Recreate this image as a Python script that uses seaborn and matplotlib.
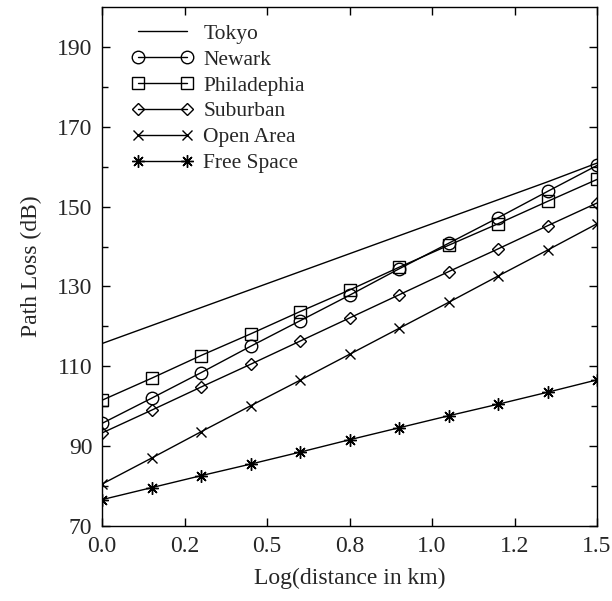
import matplotlib
matplotlib.use("Agg")
import matplotlib.pyplot as plt
import seaborn as sns
import pandas as pd
from matplotlib.ticker import FixedLocator, MultipleLocator, FormatStrFormatter

# ==================================================
# DATA
# ==================================================

log_d = [0.0, 0.15, 0.3, 0.45, 0.6, 0.75, 0.9, 1.05, 1.2, 1.35, 1.5]

tokyo = [115.7, 120.2, 124.7, 129.2, 133.7, 138.2, 142.7, 147.2, 151.7, 156.2, 160.9]
newark = [95.7, 102.0, 108.4, 115.0, 121.4, 127.8, 134.4, 140.8, 147.2, 153.8, 160.3]
philadelphia = [101.5, 107.0, 112.7, 118.1, 123.7, 129.1, 134.8, 140.3, 145.7, 151.3, 156.8]
suburban = [93.3, 99.0, 104.8, 110.5, 116.3, 122.1, 127.9, 133.7, 139.4, 145.2, 150.9]
open_area = [80.5, 87.0, 93.6, 100.1, 106.5, 113.0, 119.5, 126.0, 132.6, 139.1, 145.7]
free_space = [76.6, 79.6, 82.6, 85.5, 88.5, 91.6, 94.6, 97.6, 100.5, 103.5, 106.6]

y_major = [70, 90, 110, 130, 150, 170, 190]
y_minor = [80, 100, 120, 140, 160, 180]

series = [
    ("Tokyo", tokyo, None),
    ("Newark", newark, "o"),
    ("Philadephia", philadelphia, "s"),
    ("Suburban", suburban, "D"),
    ("Open Area", open_area, "x"),
    ("Free Space", free_space, (8, 2, 0)),
]

marker_sizes = {"o": 9, "s": 8, "D": 6.5, "x": 7}

# ==================================================
# PLOT
# ==================================================

sns.set_style("ticks")
plt.rcParams["font.family"] = ["Liberation Serif", "DejaVu Serif"]

fig = plt.figure(figsize=(6.12, 6.01), dpi=100)
ax = fig.add_axes([0.1667, 0.1248, 0.8088, 0.8636])

for name, values, marker in series:
    df = pd.DataFrame({"x": log_d, "y": values})
    kws = dict(color="black", linewidth=1.0, label=name)
    if marker is not None:
        kws.update(
            marker=marker,
            markersize=marker_sizes.get(marker, 9) if isinstance(marker, str) else 9,
            markerfacecolor="none",
            markeredgecolor="black",
            markeredgewidth=1.0,
        )
    sns.lineplot(data=df, x="x", y="y", ax=ax, **kws)

ax.set_xlim(0, 1.5)
ax.set_ylim(70, 200)

ax.xaxis.set_major_locator(MultipleLocator(0.25))
ax.xaxis.set_major_formatter(FormatStrFormatter("%.1f"))
ax.yaxis.set_major_locator(FixedLocator(y_major))
ax.yaxis.set_minor_locator(FixedLocator(y_minor))

ax.tick_params(which="both", direction="in", top=True, right=True,
               labelsize=17, color="black", width=1)
ax.tick_params(which="major", length=6, pad=7)
ax.tick_params(which="minor", length=4)
ax.tick_params(axis="x", which="minor", bottom=False, top=False)

for s in ax.spines.values():
    s.set_visible(True)
    s.set_color("black")
    s.set_linewidth(1.0)

ax.set_xlabel("Log(distance in km)", fontsize=17, labelpad=8)
ax.set_ylabel("Path Loss (dB)", fontsize=17, labelpad=11)

leg = ax.legend(
    loc="upper left",
    bbox_to_anchor=(0.02, 1.005),
    frameon=False,
    fontsize=15.5,
    numpoints=2,
    handlelength=2.9,
    handletextpad=0.45,
    labelspacing=0.27,
)

plt.savefig("out.png", dpi=100)
plt.close()
